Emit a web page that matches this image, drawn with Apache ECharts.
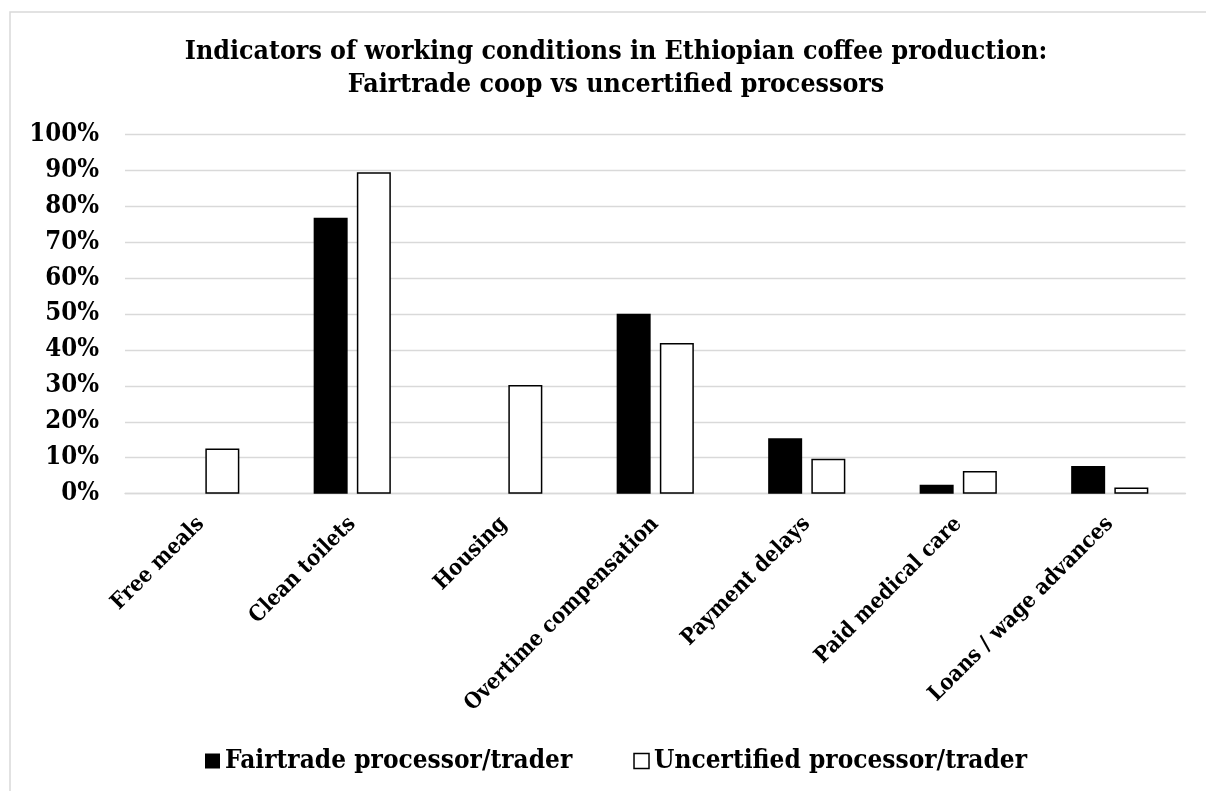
<!DOCTYPE html>
<html>
<head>
<meta charset="utf-8">
<script src="https://cdn.jsdelivr.net/npm/echarts@6/dist/echarts.min.js"></script>
<style>
  html, body { margin: 0; padding: 0; background: #fff; }
  #chart { width: 1206px; height: 791px; }
</style>
</head>
<body>
<div id="chart"></div>
<script>
const titleText = 'Indicators of working conditions in Ethiopian coffee production:\nFairtrade coop vs uncertified processors';
const categories = ['Free meals', 'Clean toilets', 'Housing', 'Overtime compensation', 'Payment delays', 'Paid medical care', 'Loans / wage advances'];
const seriesNames = ['Fairtrade processor/trader', 'Uncertified processor/trader'];
const fairtrade = [0, 76.7, 0, 50.0, 15.4, 2.5, 7.7];
const uncertified = [12.6, 89.4, 30.2, 41.9, 9.7, 6.3, 1.7];
const yMin = 0, yMax = 100, yStep = 10;

const FONT = '"DejaVu Serif Condensed", "DejaVu Serif", serif';
const chart = echarts.init(document.getElementById('chart'), null, { renderer: 'canvas' });

chart.setOption({
  backgroundColor: '#ffffff',
  animation: false,
  graphic: [{
    type: 'rect', z: -1, silent: true,
    shape: { x: 10, y: 12, width: 1220, height: 820 },
    style: { fill: 'none', stroke: '#d9d9d9', lineWidth: 1.5 }
  }],
  title: {
    text: titleText,
    left: 611, top: 31, textAlign: 'center',
    textStyle: { fontFamily: FONT, fontWeight: 'bold', fontSize: 26.5, lineHeight: 33, color: '#000' }
  },
  legend: {
    left: 200, top: 741,
    itemWidth: 15, itemHeight: 15, itemGap: 61,
    textStyle: { fontFamily: FONT, fontWeight: 'bold', fontSize: 26, lineHeight: 30, color: '#000' },
    data: [
      { name: seriesNames[0], icon: 'rect', itemStyle: { color: '#000', borderWidth: 0 } },
      { name: seriesNames[1], icon: 'rect', itemStyle: { color: '#fff', borderColor: '#000', borderWidth: 1.5 } }
    ]
  },
  grid: { left: 125, right: 20.5, top: 134, bottom: 297.3, containLabel: false },
  xAxis: {
    type: 'category',
    data: categories,
    axisLine: { show: true, lineStyle: { color: '#d9d9d9', width: 1.4 } },
    axisTick: { show: false },
    axisLabel: {
      interval: 0, rotate: 45, margin: 27,
      fontFamily: FONT, fontWeight: 'bold', fontSize: 22, color: '#000'
    },
    z: 3
  },
  yAxis: {
    type: 'value',
    min: yMin, max: yMax, interval: yStep,
    axisLine: { show: false },
    axisTick: { show: false },
    splitLine: { show: true, lineStyle: { color: '#d9d9d9', width: 1.4 } },
    axisLabel: {
      formatter: '{value}%', margin: 26,
      fontFamily: FONT, fontWeight: 'bold', fontSize: 25.5, color: '#000'
    }
  },
  series: [
    {
      name: seriesNames[0], type: 'bar', data: fairtrade,
      barWidth: 34, barGap: '27%',
      itemStyle: { color: '#000000' },
      z: 4
    },
    {
      name: seriesNames[1], type: 'bar', data: uncertified,
      barWidth: 34, barGap: '27%',
      itemStyle: { color: '#ffffff', borderColor: '#000000', borderWidth: 1.5 },
      z: 4
    }
  ]
});
</script>
</body>
</html>
